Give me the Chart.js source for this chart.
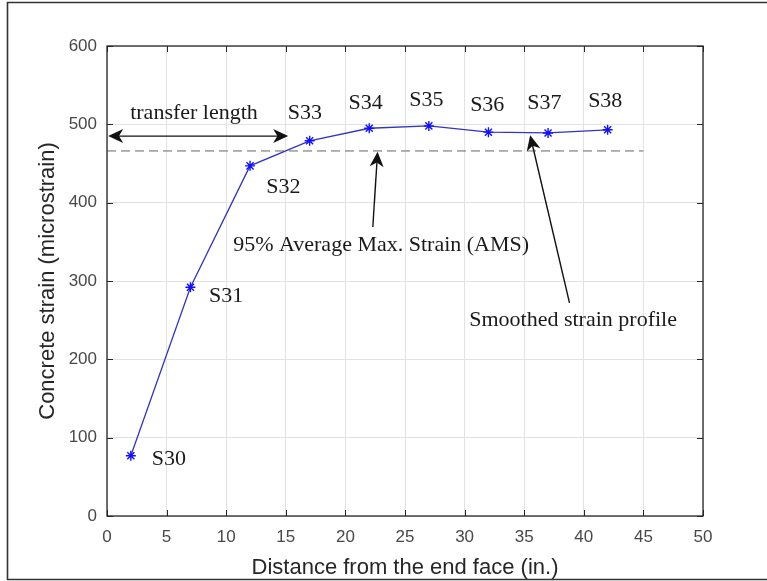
<!DOCTYPE html>
<html>
<head>
<meta charset="utf-8">
<title>Concrete strain profile</title>
<script src="https://cdn.jsdelivr.net/npm/chart.js@4/dist/chart.umd.min.js"></script>
<style>
  html, body { margin: 0; padding: 0; background: #ffffff; }
  #wrap { width: 767px; height: 581px; position: relative; }
</style>
</head>
<body>
<div id="wrap"><canvas id="chart" width="767" height="581"></canvas></div>
<script>
// Gauge positions along the member (in.) and measured strains (microstrain)
const distances = [2, 7, 12, 17, 22, 27, 32, 37, 42];
const strains   = [77, 292, 447, 479, 495, 498, 490, 489, 493];
const gaugeNames = ['S30', 'S31', 'S32', 'S33', 'S34', 'S35', 'S36', 'S37', 'S38'];

// 95% of the average maximum strain, drawn as a dashed reference line
const amsX = [0, 45];
const amsY = [466, 466];

// Axis ranges and tick steps
const xTicks = [0, 5, 10, 15, 20, 25, 30, 35, 40, 45, 50];
const yTicks = [0, 100, 200, 300, 400, 500, 600];

// Gauge label anchors (data units)
const labelX = [5.2, 10.0, 14.8, 16.6, 21.7, 26.8, 31.9, 36.7, 41.8];
const labelY = [72, 280, 420, 514, 527, 531, 525, 527, 530];

// Annotations (data units)
const transferArrow = { x0: 0.1, x1: 15.2, y: 485 };
const transferText = { x: 7.3, y: 514, text: 'transfer length' };
const amsArrow = { x0: 22.3, y0: 369, x1: 22.7, y1: 465 };
const amsText = { x: 23.0, y: 346, text: '95% Average Max. Strain (AMS)' };
const smoothArrow = { x0: 38.8, y0: 272, x1: 35.5, y1: 486 };
const smoothText = { x: 39.1, y: 250, text: 'Smoothed strain profile' };

const serif = '"Liberation Serif", "Times New Roman", serif';
const sans = '"Liberation Sans", Arial, sans-serif';

function drawArrowHead(ctx, tx, ty, ang, len, half) {
  const c = Math.cos(ang), s = Math.sin(ang);
  const bx = tx - c * len, by = ty - s * len;
  const ix = tx - c * len * 0.72, iy = ty - s * len * 0.72;
  ctx.beginPath();
  ctx.moveTo(tx, ty);
  ctx.lineTo(bx - s * half, by + c * half);
  ctx.lineTo(ix, iy);
  ctx.lineTo(bx + s * half, by - c * half);
  ctx.closePath();
  ctx.fill();
}

function drawArrow(ctx, x0, y0, x1, y1, both) {
  const ang = Math.atan2(y1 - y0, x1 - x0);
  const len = 15, half = 7;
  const c = Math.cos(ang), s = Math.sin(ang);
  const sx = both ? x0 + c * len * 0.7 : x0;
  const sy = both ? y0 + s * len * 0.7 : y0;
  ctx.beginPath();
  ctx.moveTo(sx, sy);
  ctx.lineTo(x1 - c * len * 0.7, y1 - s * len * 0.7);
  ctx.stroke();
  drawArrowHead(ctx, x1, y1, ang, len, half);
  if (both) drawArrowHead(ctx, x0, y0, ang + Math.PI, len, half);
}

const decorations = {
  id: 'decorations',
  afterDatasetsDraw(chart) {
    const ctx = chart.ctx;
    const xs = chart.scales.x, ys = chart.scales.y;
    const a = chart.chartArea;
    ctx.save();

    // axes box
    ctx.strokeStyle = '#262626';
    ctx.lineWidth = 1.3;
    ctx.strokeRect(a.left, a.top, a.right - a.left, a.bottom - a.top);

    // inward tick marks on all four sides
    ctx.lineWidth = 1;
    ctx.beginPath();
    const tl = 6;
    xTicks.forEach(v => {
      const px = Math.round(xs.getPixelForValue(v)) + 0.5;
      ctx.moveTo(px, a.bottom); ctx.lineTo(px, a.bottom - tl);
      ctx.moveTo(px, a.top); ctx.lineTo(px, a.top + tl);
    });
    yTicks.forEach(v => {
      const py = Math.round(ys.getPixelForValue(v)) + 0.5;
      ctx.moveTo(a.left, py); ctx.lineTo(a.left + tl, py);
      ctx.moveTo(a.right, py); ctx.lineTo(a.right - tl, py);
    });
    ctx.stroke();

    // gauge labels
    ctx.fillStyle = '#1a1a1a';
    ctx.font = '22px ' + serif;
    ctx.textAlign = 'center';
    ctx.textBaseline = 'middle';
    gaugeNames.forEach((n, i) => {
      ctx.fillText(n, xs.getPixelForValue(labelX[i]), ys.getPixelForValue(labelY[i]));
    });

    // annotation texts
    [transferText, amsText, smoothText].forEach(t => {
      ctx.fillText(t.text, xs.getPixelForValue(t.x), ys.getPixelForValue(t.y));
    });

    // arrows
    ctx.strokeStyle = '#111111';
    ctx.fillStyle = '#111111';
    ctx.lineWidth = 1.4;
    drawArrow(ctx, xs.getPixelForValue(transferArrow.x0), ys.getPixelForValue(transferArrow.y),
                   xs.getPixelForValue(transferArrow.x1), ys.getPixelForValue(transferArrow.y), true);
    drawArrow(ctx, xs.getPixelForValue(amsArrow.x0), ys.getPixelForValue(amsArrow.y0),
                   xs.getPixelForValue(amsArrow.x1), ys.getPixelForValue(amsArrow.y1), false);
    drawArrow(ctx, xs.getPixelForValue(smoothArrow.x0), ys.getPixelForValue(smoothArrow.y0),
                   xs.getPixelForValue(smoothArrow.x1), ys.getPixelForValue(smoothArrow.y1), false);

    // outer frame
    ctx.strokeStyle = '#333333';
    ctx.lineWidth = 1.6;
    ctx.beginPath();
    ctx.moveTo(767, 2.5); ctx.lineTo(7.5, 2.5); ctx.lineTo(7.5, 579.5); ctx.lineTo(767, 579.5);
    ctx.stroke();
    ctx.restore();
  }
};

new Chart(document.getElementById('chart'), {
  type: 'scatter',
  data: {
    datasets: [
      {
        label: 'Smoothed strain profile',
        data: distances.map((d, i) => ({ x: d, y: strains[i] })),
        showLine: true,
        borderColor: '#3434c4',
        borderWidth: 1.3,
        pointStyle: 'star',
        pointRadius: 5,
        pointBorderColor: '#1010ff',
        pointBackgroundColor: '#1010ff',
        pointBorderWidth: 1.4,
        order: 1
      },
      {
        label: '95% AMS',
        data: amsX.map((d, i) => ({ x: d, y: amsY[i] })),
        showLine: true,
        borderColor: '#666666',
        borderWidth: 1,
        borderDash: [9, 5],
        pointRadius: 0,
        order: 2
      }
    ]
  },
  options: {
    responsive: false,
    animation: false,
    events: [],
    layout: { padding: { top: 46, right: 64, left: 0, bottom: 0 } },
    plugins: { legend: { display: false }, tooltip: { enabled: false } },
    scales: {
      x: {
        type: 'linear',
        min: 0, max: 50,
        afterFit(scale) { scale.height = 65; },
        afterBuildTicks(scale) { scale.ticks = xTicks.map(v => ({ value: v })); },
        grid: { color: '#e2e2e2', lineWidth: 1, drawTicks: false },
        border: { display: false },
        ticks: { color: '#484848', font: { family: sans, size: 17 }, padding: 11, maxRotation: 0 },
        title: {
          display: true,
          text: 'Distance from the end face (in.)',
          color: '#262626',
          font: { family: sans, size: 22 },
          padding: { top: 4, bottom: 0 }
        }
      },
      y: {
        type: 'linear',
        min: 0, max: 600,
        afterFit(scale) { scale.width = 107; },
        afterBuildTicks(scale) { scale.ticks = yTicks.map(v => ({ value: v })); },
        grid: { color: '#e2e2e2', lineWidth: 1, drawTicks: false },
        border: { display: false },
        ticks: { color: '#484848', font: { family: sans, size: 17 }, padding: 10 },
        title: {
          display: true,
          text: 'Concrete strain (microstrain)',
          color: '#262626',
          font: { family: sans, size: 22 },
          padding: { top: 35, bottom: 0 }
        }
      }
    }
  },
  plugins: [decorations]
});
</script>
</body>
</html>
